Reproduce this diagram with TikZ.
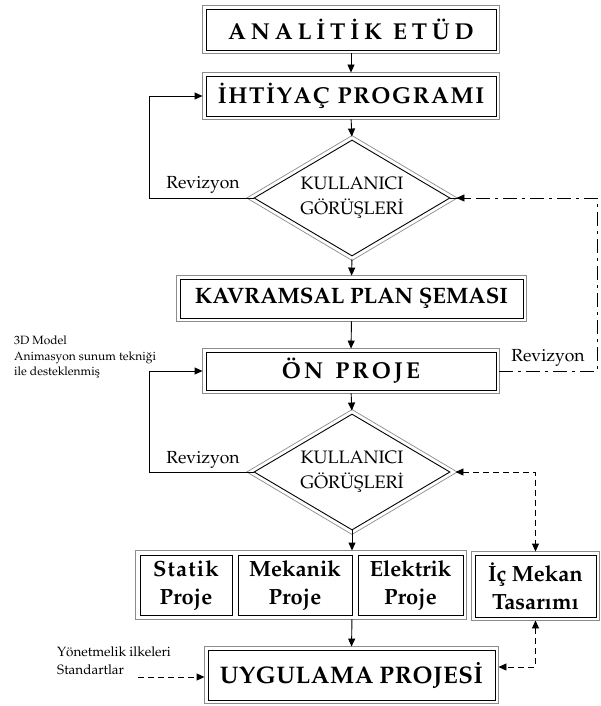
\documentclass[tikz,border=0pt]{standalone}
\usepackage[T1]{fontenc}
\renewcommand{\rmdefault}{ppl}
\usetikzlibrary{arrows.meta,shapes.geometric,calc}
\newcommand{\gfr}[2][3pt]{\draw[gframe] ([xshift=-#1,yshift=#1]#2.north west) rectangle ([xshift=#1,yshift=-#1]#2.south east);}
\newcommand{\gdia}[2][4pt]{\draw[gframe] ([yshift=#1]#2.north) -- ([xshift=#1*1.7]#2.east) -- ([yshift=-#1]#2.south) -- ([xshift=-#1*1.7]#2.west) -- cycle;}
\newcommand{\ks}{\kern1.6pt}
\newcommand{\ku}{\kern0.6pt}
\begin{document}
\begin{tikzpicture}[x=1pt,y=-1pt,
  box/.style={draw=black,line width=0.9pt,inner sep=0pt,align=center},
  gframe/.style={draw=black!45,line width=0.7pt},
  title/.style={font=\bfseries\fontsize{23}{27}\selectfont},
  sub/.style={font=\bfseries\fontsize{22}{28}\selectfont},
  lbl/.style={font=\fontsize{17.5}{20}\selectfont, inner sep=0pt},
  small/.style={font=\fontsize{12}{15.5}\selectfont, inner sep=0pt, align=left},
  small2/.style={font=\fontsize{13.5}{18}\selectfont, inner sep=0pt, align=left},
  dtext/.style={font=\fontsize{18}{25}\selectfont, align=center},
  dia/.style={diamond,draw=black,line width=0.9pt,inner sep=0pt,minimum width=196pt,minimum height=116pt},
  tip/.tip={Triangle[length=8pt,width=7pt]},
  arr/.style={line width=0.9pt,-tip},
  dline/.style={line width=0.9pt,dash pattern=on 6pt off 4pt},
  ddline/.style={line width=0.9pt,dash pattern=on 14pt off 5pt on 3pt off 5pt}]
\useasboundingbox[fill=white] (0,0) rectangle (600,706);

% main column
\node[box,title,minimum width=290pt,minimum height=41pt] (ae) at (351,29.5)
  {A\kern4.8pt N\kern4.8pt A\kern4.8pt L\kern4.8pt \.I\kern4.8pt T\kern4.8pt \.I\kern4.8pt K\kern11pt E\kern4.8pt T\kern4.8pt \"U\kern4.8pt D};
\gfr{ae}
\node[box,title,minimum width=290pt,minimum height=40pt] (ip) at (351,96)
  {\.I\ks H\ks T\ks \.I\ks Y\ks A\ks \c{C}\kern8pt P\ks R\ks O\ks G\ks R\ks A\ks M\ks I};
\gfr{ip}
\node[dia,label={[dtext]center:KULLANICI\\G\"OR\"U\c{S}LER\.I}] (d1) at (352,198) {};
\gdia{d1}
\node[box,title,minimum width=343pt,minimum height=39pt] (kp) at (351.5,298.5)
  {\fontsize{22.3}{27}\selectfont KAVRAMSAL PLAN \c{S}EMASI};
\gfr{kp}
\node[box,title,minimum width=290pt,minimum height=38pt] (op) at (351,371)
  {\"O\kern3pt N\kern12pt P\kern3pt R\kern3pt O\kern3pt J\kern3pt E};
\gfr{op}
\node[dia,label={[dtext]center:KULLANICI\\G\"OR\"U\c{S}LER\.I}] (d2) at (352,472) {};
\gdia{d2}

% project boxes
\node[box,sub,minimum width=92pt,minimum height=60pt] (st) at (186,585) {S\kern1.2pt t\kern1.2pt a\kern1.2pt t\kern1.2pt i\kern1.2pt k\\Proje};
\node[box,sub,minimum width=114pt,minimum height=60pt] (mk) at (295,585) {Mekanik\\Proje};
\node[box,sub,minimum width=105pt,minimum height=60pt] (el) at (410.5,585) {Elektrik\\Proje};
\draw[gframe] ([xshift=-4pt,yshift=4pt]st.north west) rectangle ([xshift=3pt,yshift=-4pt]el.south east);
\node[box,sub,minimum width=121pt,minimum height=62pt] (im) at (535.5,586) {\.I\c{c} Mekan\\Tasar\i m\i};
\gfr{im}
\node[box,title,minimum width=287pt,minimum height=50pt] (up) at (351.5,675)
  {\fontsize{24}{28}\selectfont U\ku Y\ku G\ku U\ku L\ku A\ku M\ku A\kern6pt P\ku R\ku O\ku J\ku E\ku S\ku \.I};
\gfr{up}

% labels
\node[lbl] (rv1) at (203,185) {Revizyon};
\node[lbl] (rv2) at (203,460) {Revizyon};
\node[lbl] (rv3) at (548,358) {Revizyon};
\node[small,anchor=north west] (md) at (14,336) {3D Model\\Animasyon sunum tekni\u{g}i\\ile desteklenmi\c{s}};
\node[small2,anchor=north west] (yl) at (57,647) {Y\"onetmelik ilkeleri\\Standartlar};

% connectors
\draw[arr,shorten <=3pt,shorten >=3pt] (ae.south) -- (ip.north);
\draw[arr,shorten <=3pt,shorten >=3pt] (ip.south) -- (d1.north);
\draw[arr,shorten >=3pt] (d1.west) -- ++(-104,0) |- (ip.west);
\coordinate (c1) at (597,371);
\draw[ddline,shorten <=3pt] (op.east) -- (c1) |- (d1.east);
\draw[arr,shorten >=6pt] ([xshift=20pt]d1.east) -- (d1.east);
\draw[arr,shorten <=3pt,shorten >=3pt] (kp.south) -- (op.north);
\draw[arr,shorten <=3pt,shorten >=3pt] (d1.south) -- (kp.north);
\draw[arr,shorten <=3pt,shorten >=3pt] (op.south) -- (d2.north);
\draw[arr,shorten >=3pt] (d2.west) -- ++(-104,0) |- (op.west);
\draw[arr,shorten >=4pt] (d2.south) -- (d2.south |- st.north);
\draw[arr,shorten <=4pt,shorten >=3pt] (d2.south |- st.south) -- (up.north);
\draw[dline,tip-tip,shorten <=5pt,shorten >=3pt] (d2.east) -| (im.north);
\draw[dline,tip-tip,shorten <=3pt,shorten >=3pt] (im.south) |- ([yshift=8pt]up.east);
\coordinate (c3) at (138,677);
\draw[dline,-tip,shorten >=3pt] (c3) -- (c3 -| up.west);
\end{tikzpicture}
\end{document}
